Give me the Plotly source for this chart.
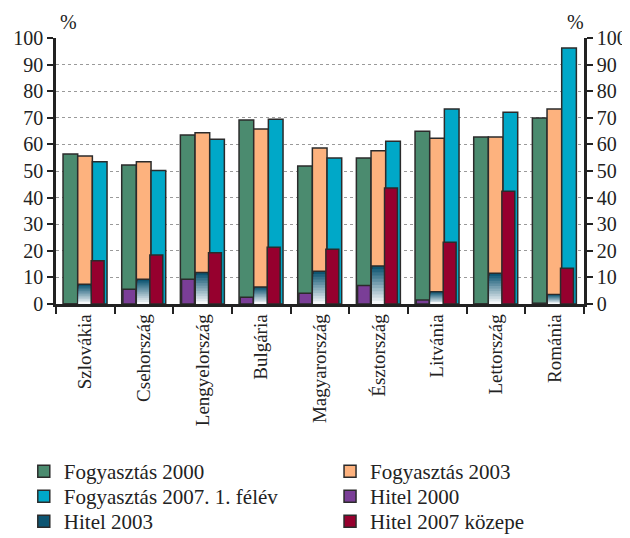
import plotly.graph_objects as go

countries = ["Szlovákia", "Csehország", "Lengyelország", "Bulgária", "Magyarország",
             "Észtország", "Litvánia", "Lettország", "Románia"]

fogy_2000 = [56.4, 52.3, 63.5, 69.2, 51.9, 54.9, 64.9, 62.8, 69.9]
fogy_2003 = [55.6, 53.5, 64.4, 65.8, 58.6, 57.6, 62.3, 62.8, 73.3]
fogy_2007 = [53.5, 50.2, 61.9, 69.5, 54.9, 61.2, 73.3, 72.1, 96.2]
hitel_2000 = [0.0, 5.5, 9.3, 2.5, 4.0, 7.0, 1.5, 0.0, 0.3]
hitel_2003 = [7.4, 9.3, 11.8, 6.4, 12.3, 14.3, 4.6, 11.6, 3.6]
hitel_2007 = [16.3, 18.4, 19.3, 21.3, 20.6, 43.6, 23.2, 42.4, 13.4]

font = "Liberation Serif"
edge = dict(color="#2b2b2b", width=1.5)

fig = go.Figure()

# (name, values, colour, offset, legend slot)
wide = [("Fogyasztás 2000", fogy_2000, "#4b8b6f", -0.38, "legend"),
        ("Fogyasztás 2003", fogy_2003, "#fdb27e", -0.13, "legend2"),
        ("Fogyasztás 2007. 1. félév", fogy_2007, "#00a8c8", 0.12, "legend3")]
for name, vals, col, off, lg in wide:
    fig.add_trace(go.Bar(x=countries, y=vals, name=name, offset=off, width=0.25, legend=lg,
                         marker=dict(color=col, line=edge)))

fig.add_trace(go.Bar(x=countries, y=hitel_2000, name="Hitel 2000", offset=-0.36, width=0.22,
                     legend="legend4", marker=dict(color="#7a3e97", line=edge)))

# Hitel 2003: gradient from dark teal (top) to white (bottom), faked with layers
fig.add_trace(go.Bar(x=countries, y=hitel_2003, name="Hitel 2003", offset=-0.12, width=0.22,
                     legend="legend5", marker=dict(color="#0d5572", line=edge)))
n = 12
top = (13, 85, 114)
bot = (245, 247, 249)
for i in range(1, n):
    k = 1 - i / n
    t = i / (n - 1)
    c = tuple(int(top[j] + (bot[j] - top[j]) * t) for j in range(3))
    fig.add_trace(go.Bar(x=countries, y=[v * k for v in hitel_2003], offset=-0.12 + 0.006,
                         width=0.22 - 0.012, showlegend=False, hoverinfo="skip",
                         marker=dict(color="rgb(%d,%d,%d)" % c, line=dict(width=0))))

fig.add_trace(go.Bar(x=countries, y=hitel_2007, name="Hitel 2007 közepe", offset=0.10, width=0.22,
                     legend="legend6", marker=dict(color="#96002e", line=edge)))

# invisible trace for the right axis
fig.add_trace(go.Bar(x=countries, y=fogy_2000, yaxis="y2", opacity=0, showlegend=False,
                     hoverinfo="skip"))

axis_y = dict(range=[0, 100], dtick=10, ticks="outside", ticklen=6, tickwidth=2,
              tickcolor="#222", showline=True, linecolor="#222", linewidth=2.5,
              tickfont=dict(family=font, size=20, color="#222"), zeroline=False)

# one legend per entry: two columns, three rows
legend_style = dict(orientation="v", yanchor="top", xanchor="left",
                    font=dict(family=font, size=21, color="#222"),
                    bgcolor="rgba(0,0,0,0)")
cols = [-0.061, 0.519]
rows = [-0.553, -0.647, -0.741]
legends = {}
for i in range(6):
    key = "legend" if i == 0 else "legend%d" % (i + 1)
    legends[key] = dict(**legend_style, x=cols[i % 2], y=rows[i // 2])

# page has an 8px body margin, so the figure is 8px smaller than the window
fig.update_layout(
    width=622, height=530,
    margin=dict(l=48, r=46, t=30, b=234, autoexpand=False),
    barmode="overlay",
    plot_bgcolor="white", paper_bgcolor="white",
    font=dict(family=font, size=18, color="#222"),
    xaxis=dict(tickangle=-90, tickson="boundaries", ticks="outside", ticklen=7, tickwidth=2,
               tickcolor="#222", showline=True, linecolor="#222", linewidth=2.5,
               tickfont=dict(family=font, size=19, color="#222"), showgrid=False),
    yaxis=dict(**axis_y, showgrid=True, gridcolor="#9a9a9a", griddash="dot", gridwidth=1),
    yaxis2=dict(**axis_y, overlaying="y", side="right", showgrid=False),
    showlegend=True,
    annotations=[
        dict(text="%", xref="paper", yref="paper", x=0.024, y=1.0, xanchor="center",
             yanchor="bottom", yshift=3, showarrow=False,
             font=dict(family=font, size=20, color="#222")),
        dict(text="%", xref="paper", yref="paper", x=0.983, y=1.0, xanchor="center",
             yanchor="bottom", yshift=3, showarrow=False,
             font=dict(family=font, size=20, color="#222")),
    ],
    **legends,
)

fig.write_html("out.html")
